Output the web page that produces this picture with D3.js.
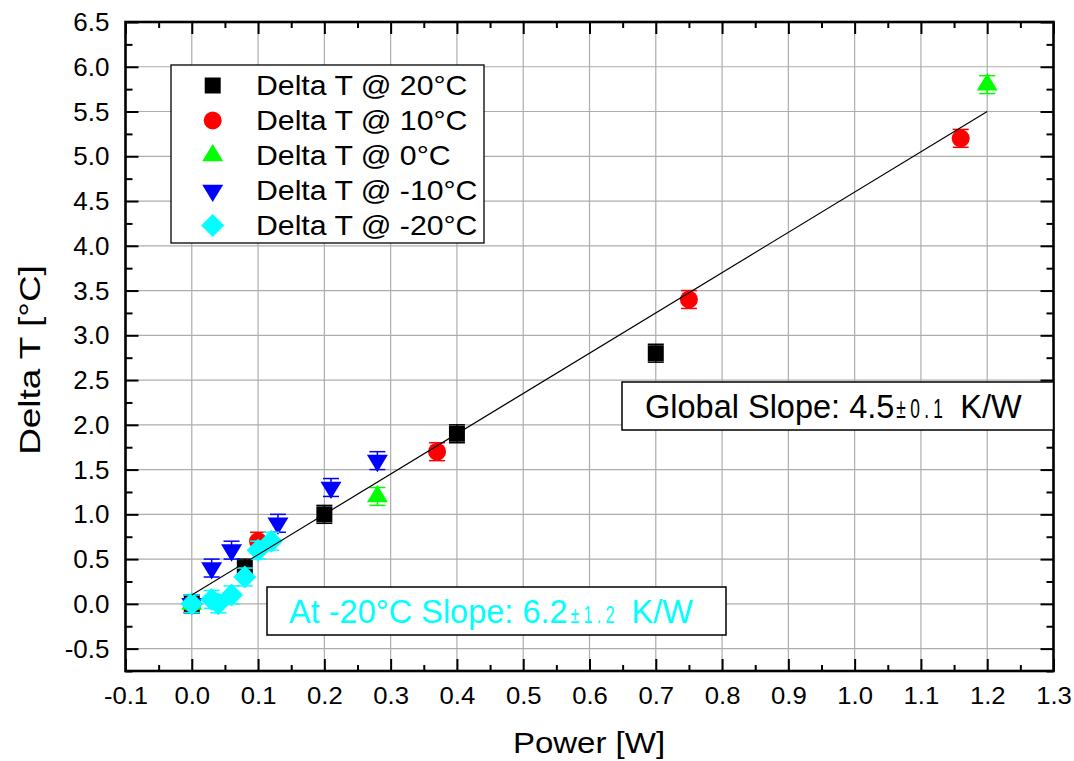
<!DOCTYPE html>
<html>
<head>
<meta charset="utf-8">
<script src="https://cdn.jsdelivr.net/npm/d3@7"></script>
<style>
  body { margin: 0; background: #ffffff; }
  svg text { font-family: "Liberation Sans", Arial, sans-serif; }
</style>
</head>
<body>
<svg id="chart" width="1074" height="761"></svg>
<script>
// ---- data -------------------------------------------------------------
const seriesNames   = ["Delta T @ 20°C", "Delta T @ 10°C", "Delta T @ 0°C", "Delta T @ -10°C", "Delta T @ -20°C"];
const seriesColors  = ["#000000", "#ff0000", "#00ff00", "#0000ff", "#00ffff"];
const seriesSymbols = ["square", "circle", "triangleUp", "triangleDown", "diamond"];

const power20  = [0, 0.08, 0.2, 0.4, 0.7];
const delta20  = [0, 0.4, 1.0, 1.9, 2.8];
const error20  = [0.1, 0.1, 0.1, 0.1, 0.1];

const power10  = [0, 0.1, 0.37, 0.75, 1.16];
const delta10  = [0, 0.7, 1.7, 3.4, 5.2];
const error10  = [0.1, 0.1, 0.1, 0.1, 0.1];

const power0   = [0, 0.28, 1.2];
const delta0   = [0, 1.2, 5.8];
const error0   = [0.1, 0.1, 0.1];

const powerM10 = [0, 0.03, 0.06, 0.13, 0.21, 0.28];
const deltaM10 = [0, 0.4, 0.6, 0.9, 1.3, 1.6];
const errorM10 = [0.1, 0.1, 0.1, 0.1, 0.1, 0.1];

const powerM20 = [0, 0.03, 0.04, 0.06, 0.08, 0.1, 0.12];
const deltaM20 = [0, 0.05, 0.0, 0.1, 0.3, 0.6, 0.7];
const errorM20 = [0.1, 0.1, 0.1, 0.1, 0.1, 0.1, 0.1];

// global linear fit
const fitPower = [0, 1.2];
const fitDelta = [0.1, 5.5];

const xTickValues = d3.range(-1, 14).map(i => i / 10);   // -0.1 … 1.3
const yTickValues = d3.range(-1, 14).map(i => i / 2);    // -0.5 … 6.5

const xTitle = "Power [W]";
const yTitle = "Delta T [°C]";
const globalNote = { main: "Global Slope: 4.5", pm: "±0.1", unit: "K/W" };
const coldNote   = { main: "At -20°C Slope: 6.2", pm: "±1.2", unit: "K/W" };

const seriesPower = [power20, power10, power0, powerM10, powerM20];
const seriesDelta = [delta20, delta10, delta0, deltaM10, deltaM20];
const seriesError = [error20, error10, error0, errorM10, errorM20];

// ---- layout -----------------------------------------------------------
const plot = { left: 125.5, right: 1053.5, top: 22, bottom: 671 };
const svg = d3.select("#chart");

const x = d3.scaleLinear().domain([-0.1, 1.3]).range([plot.left, plot.right]);
const y = d3.scaleLinear().domain([-0.75, 6.5]).range([plot.bottom, plot.top]);

const xMinor = d3.range(-2, 27).map(i => i / 20).filter(v => Math.abs(v * 10 - Math.round(v * 10)) > 1e-6);
const yMinor = d3.range(-3, 27).map(i => i / 4).filter(v => Math.abs(v * 2 - Math.round(v * 2)) > 1e-6);

// ---- grid -------------------------------------------------------------
const grid = svg.append("g").attr("stroke", "#adadad").attr("stroke-width", 1.2);
grid.selectAll("line.vx")
  .data(xTickValues.filter(v => v > -0.1 + 1e-6 && v < 1.3 - 1e-6))
  .join("line")
  .attr("x1", d => x(d)).attr("x2", d => x(d))
  .attr("y1", plot.top).attr("y2", plot.bottom);
grid.selectAll("line.hy")
  .data(yTickValues.filter(v => v < 6.5 - 1e-6))
  .join("line")
  .attr("y1", d => y(d)).attr("y2", d => y(d))
  .attr("x1", plot.left).attr("x2", plot.right);

// ---- markers ----------------------------------------------------------
function symbolPath(kind) {
  switch (kind) {
    case "square": return "M-8,-8H8V8H-8Z";
    case "circle": return d3.arc()({ innerRadius: 0, outerRadius: 9, startAngle: 0, endAngle: 2 * Math.PI });
    case "triangleUp": return "M0,-11.5L10.5,5.8L-10.5,5.8Z";
    case "triangleDown": return "M0,11.5L10.5,-5.8L-10.5,-5.8Z";
    case "diamond": return "M0,-11.5L11.5,0L0,11.5L-11.5,0Z";
  }
}

const marks = svg.append("g");
seriesNames.forEach((name, s) => {
  const pts = seriesPower[s].map((p, i) => ({ p, d: seriesDelta[s][i], e: seriesError[s][i] }));
  const g = marks.append("g").attr("class", "series");
  const col = seriesColors[s];
  // error bars
  const eb = g.selectAll("g.eb").data(pts).join("g").attr("stroke", col).attr("stroke-width", 1.5);
  eb.append("line").attr("x1", d => x(d.p)).attr("x2", d => x(d.p))
    .attr("y1", d => y(d.d + d.e)).attr("y2", d => y(d.d - d.e));
  eb.append("line").attr("x1", d => x(d.p) - 8).attr("x2", d => x(d.p) + 8)
    .attr("y1", d => y(d.d + d.e)).attr("y2", d => y(d.d + d.e));
  eb.append("line").attr("x1", d => x(d.p) - 8).attr("x2", d => x(d.p) + 8)
    .attr("y1", d => y(d.d - d.e)).attr("y2", d => y(d.d - d.e));
  // symbols
  g.selectAll("path.sym").data(pts).join("path")
    .attr("class", "sym")
    .attr("d", symbolPath(seriesSymbols[s]))
    .attr("transform", d => `translate(${x(d.p)},${y(d.d)})`)
    .attr("fill", col);
});

// ---- fit line ---------------------------------------------------------
svg.append("path")
  .datum(fitPower.map((p, i) => [p, fitDelta[i]]))
  .attr("fill", "none").attr("stroke", "#000").attr("stroke-width", 1.2)
  .attr("d", d3.line().x(d => x(d[0])).y(d => y(d[1])));

// ---- axes -------------------------------------------------------------
function styleAxis(g) {
  g.select(".domain").remove();
  g.selectAll(".tick line").attr("stroke", "#000").attr("stroke-width", 2);
}

// bottom
svg.append("g").attr("transform", `translate(0,${plot.bottom})`)
  .call(d3.axisBottom(x).tickValues(xTickValues).tickSize(-12).tickPadding(16)
    .tickFormat(d => d.toFixed(1)))
  .call(styleAxis)
  .call(g => g.selectAll(".tick text")
    .attr("fill", "#000").attr("font-size", 24)
    .attr("font-family", "Liberation Sans, Arial, sans-serif")
    .attr("transform", "scale(1.07,1)"));
svg.append("g").attr("transform", `translate(0,${plot.bottom})`)
  .call(d3.axisBottom(x).tickValues(xMinor).tickSize(-6).tickFormat(""))
  .call(styleAxis);

// top
svg.append("g").attr("transform", `translate(0,${plot.top})`)
  .call(d3.axisTop(x).tickValues(xTickValues).tickSize(-12).tickFormat(""))
  .call(styleAxis);
svg.append("g").attr("transform", `translate(0,${plot.top})`)
  .call(d3.axisTop(x).tickValues(xMinor).tickSize(-6).tickFormat(""))
  .call(styleAxis);

// left
svg.append("g").attr("transform", `translate(${plot.left},0)`)
  .call(d3.axisLeft(y).tickValues(yTickValues).tickSize(-13).tickPadding(16)
    .tickFormat(d => d.toFixed(1)))
  .call(styleAxis)
  .call(g => g.selectAll(".tick text")
    .attr("fill", "#000").attr("font-size", 25)
    .attr("font-family", "Liberation Sans, Arial, sans-serif")
    .attr("dy", "0.34em")
    .attr("transform", "translate(-16,0) scale(1.04,1) translate(16,0)"));
svg.append("g").attr("transform", `translate(${plot.left},0)`)
  .call(d3.axisLeft(y).tickValues(yMinor).tickSize(-7).tickFormat(""))
  .call(styleAxis);

// right
svg.append("g").attr("transform", `translate(${plot.right},0)`)
  .call(d3.axisRight(y).tickValues(yTickValues).tickSize(-13).tickFormat(""))
  .call(styleAxis);
svg.append("g").attr("transform", `translate(${plot.right},0)`)
  .call(d3.axisRight(y).tickValues(yMinor).tickSize(-7).tickFormat(""))
  .call(styleAxis);

// frame
svg.append("rect")
  .attr("x", plot.left).attr("y", plot.top)
  .attr("width", plot.right - plot.left).attr("height", plot.bottom - plot.top)
  .attr("fill", "none").attr("stroke", "#000").attr("stroke-width", 2.6);

// ---- axis titles ------------------------------------------------------
svg.append("text")
  .attr("transform", `translate(${(plot.left + plot.right) / 2 - 0.5},753) scale(1.1,1)`)
  .attr("text-anchor", "middle").attr("font-size", 30).attr("fill", "#000")
  .text(xTitle);
svg.append("text")
  .attr("transform", "translate(40,360) rotate(-90) scale(1.23,1)")
  .attr("text-anchor", "middle").attr("font-size", 30).attr("fill", "#000")
  .text(yTitle);

// ---- legend -----------------------------------------------------------
const legend = svg.append("g");
legend.append("rect")
  .attr("x", 171).attr("y", 65).attr("width", 313).attr("height", 178)
  .attr("fill", "#fff").attr("stroke", "#000").attr("stroke-width", 1.3);
seriesNames.forEach((name, s) => {
  const cy = 85.5 + 35 * s;
  legend.append("path")
    .attr("d", symbolPath(seriesSymbols[s]))
    .attr("transform", `translate(212.7,${cy})`)
    .attr("fill", seriesColors[s]);
  legend.append("text")
    .attr("transform", `translate(256,${cy + 9.5}) scale(1.1,1)`)
    .attr("font-size", 27.5).attr("fill", "#000")
    .text(name);
});

// ---- slope annotations ------------------------------------------------
function note(box, content, color, opts) {
  const g = svg.append("g");
  g.append("rect")
    .attr("x", box.x).attr("y", box.y).attr("width", box.w).attr("height", box.h)
    .attr("fill", "#fff").attr("stroke", "#000").attr("stroke-width", 1.5);
  const base = box.y + opts.baseline;
  const main = g.append("text")
    .attr("x", box.x + opts.pad).attr("y", base)
    .attr("font-size", opts.size).attr("fill", color)
    .text(content.main);
  const mainW = main.node().getComputedTextLength();
  const pmX = box.x + opts.pad + mainW + opts.pmGap;
  const pm = g.append("text")
    .attr("transform", `translate(${pmX},${base}) scale(${opts.pmScale},1)`)
    .attr("font-family", "Liberation Serif, 'Times New Roman', serif")
    .attr("font-size", opts.pmSize).attr("letter-spacing", opts.pmSpacing)
    .attr("fill", color)
    .text(content.pm);
  const pmW = pm.node().getComputedTextLength() * opts.pmScale;
  g.append("text")
    .attr("x", pmX + pmW + opts.unitGap).attr("y", base)
    .attr("font-size", opts.size).attr("fill", color)
    .text(content.unit);
}

note({ x: 622, y: 382, w: 431.5, h: 48 }, globalNote, "#000",
  { pad: 23, baseline: 36, size: 32.5, pmGap: 2, pmSize: 28, pmScale: 0.62, pmSpacing: 7, unitGap: 13 });
note({ x: 267, y: 587, w: 459, h: 48 }, coldNote, "#00ffff",
  { pad: 22, baseline: 36, size: 32.5, pmGap: 3, pmSize: 24, pmScale: 0.68, pmSpacing: 6, unitGap: 13 });
</script>
</body>
</html>
